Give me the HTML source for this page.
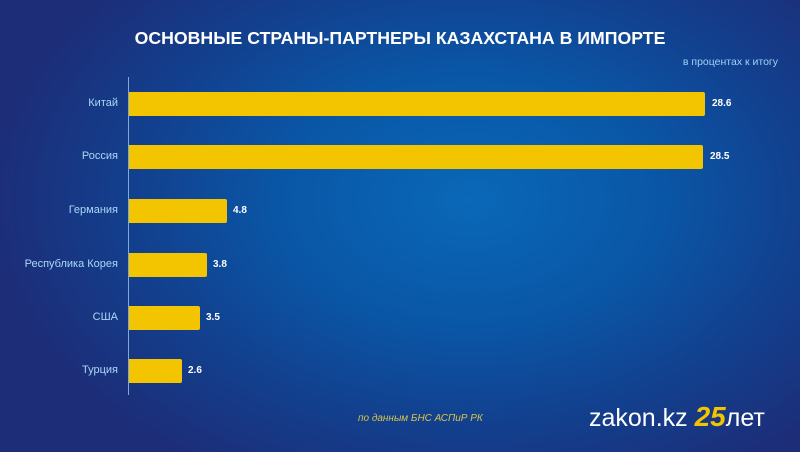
<!DOCTYPE html>
<html><head><meta charset="utf-8"><style>
body{margin:0;width:800px;height:452px;overflow:hidden;font-family:"Liberation Sans",sans-serif;}
.bg{position:absolute;inset:0;background:radial-gradient(ellipse 480px 320px at 470px 200px,#0a68b8 0%,#0a56a6 40%,#12408e 70%,#1d2d78 100%);}
.t{position:absolute;top:28px;left:0;width:800px;text-align:center;color:#fff;font-weight:bold;font-size:17.7px;}
.s{position:absolute;top:56px;right:22px;color:#9fd3f5;font-size:10.5px;}
.ax{position:absolute;left:128px;top:77px;width:1px;height:318px;background:#7fa9d8;}
.b{position:absolute;left:129px;height:24px;background:#f2c500;border-radius:0 2px 2px 0;}
.v{position:absolute;color:#fff;font-size:10px;font-weight:bold;}
.l{position:absolute;right:682px;color:#a9d8f7;font-size:11px;text-align:right;white-space:nowrap;}
.src{position:absolute;left:358px;top:413px;color:#d9c34a;font-style:italic;font-size:10px;}
.logo{position:absolute;left:589px;top:401px;color:#fff;font-size:25px;}
.logo b{color:#f2c500;font-weight:bold;font-style:italic;font-size:28px;}
</style></head><body><div class="bg"></div>
<div class="t">ОСНОВНЫЕ СТРАНЫ-ПАРТНЕРЫ КАЗАХСТАНА В ИМПОРТЕ</div>
<div class="s">в процентах к итогу</div>
<div class="ax"></div>
<div class="b" style="top:92px;width:576px"></div><div class="v" style="top:98px;left:712px">28.6</div><div class="l" style="top:97px">Китай</div>
<div class="b" style="top:145px;width:574px"></div><div class="v" style="top:151px;left:710px">28.5</div><div class="l" style="top:150px">Россия</div>
<div class="b" style="top:199px;width:98px"></div><div class="v" style="top:205px;left:233px">4.8</div><div class="l" style="top:204px">Германия</div>
<div class="b" style="top:253px;width:78px"></div><div class="v" style="top:259px;left:213px">3.8</div><div class="l" style="top:258px">Республика Корея</div>
<div class="b" style="top:306px;width:71px"></div><div class="v" style="top:312px;left:206px">3.5</div><div class="l" style="top:311px">США</div>
<div class="b" style="top:359px;width:53px"></div><div class="v" style="top:365px;left:188px">2.6</div><div class="l" style="top:364px">Турция</div>
<div class="src">по данным БНС АСПиР РК</div>
<div class="logo">zakon.kz <b>25</b>лет</div>
</body></html>
